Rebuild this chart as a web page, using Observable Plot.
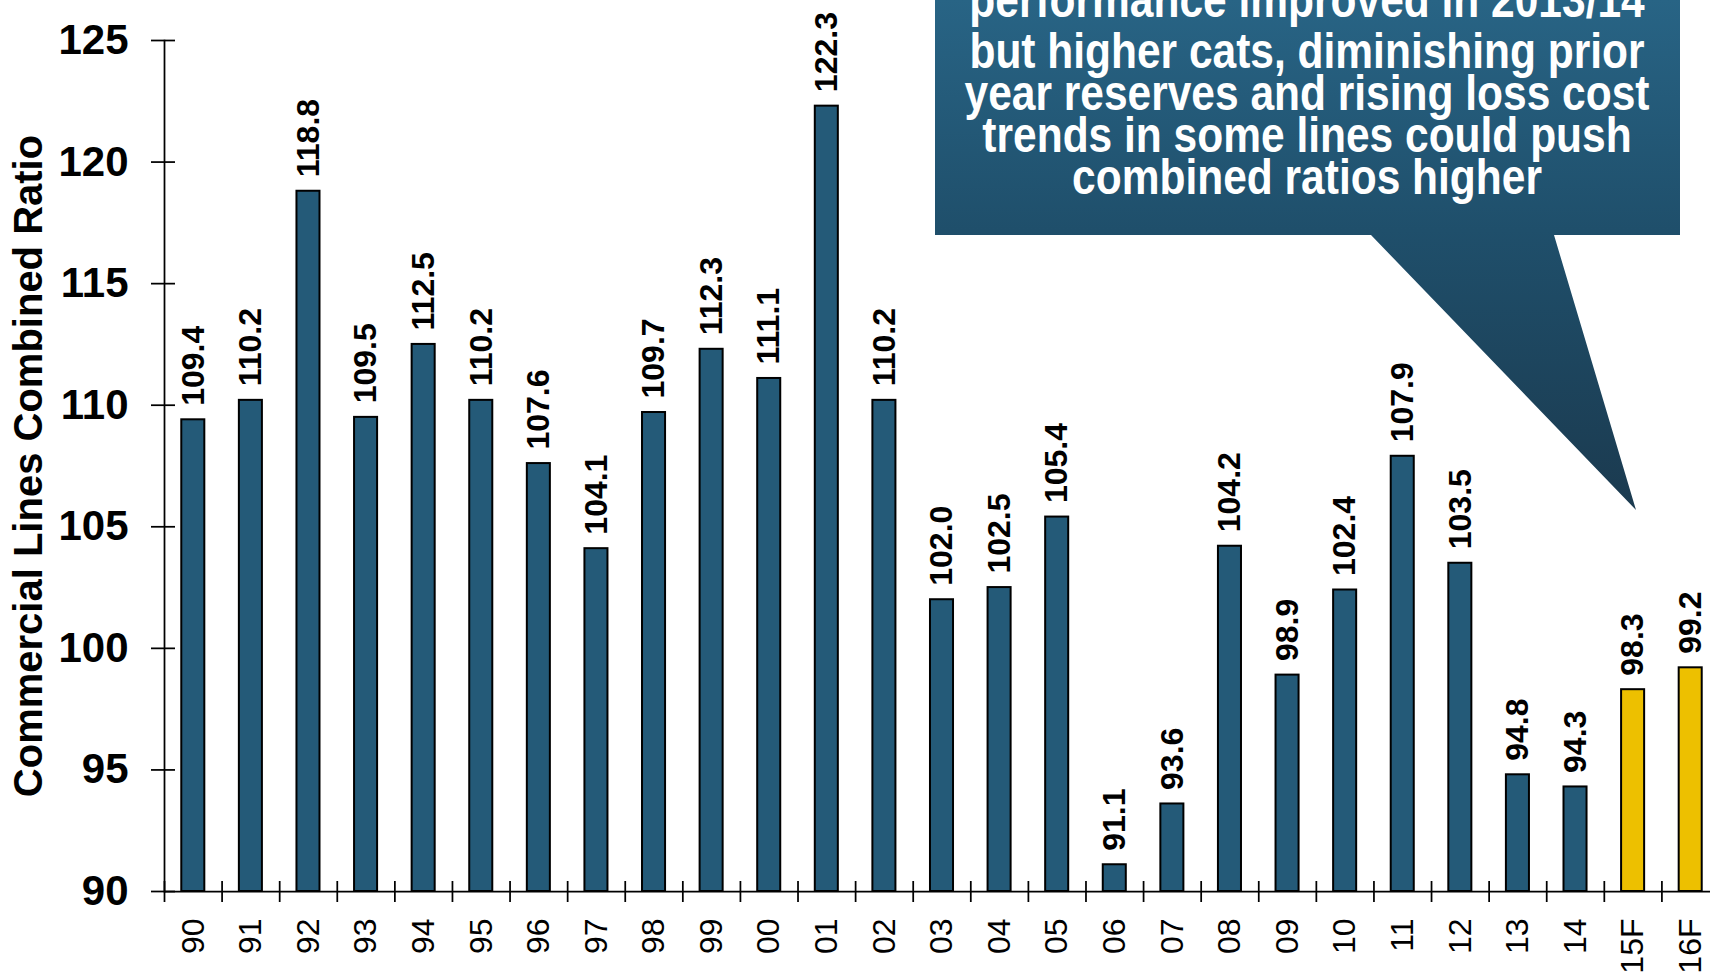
<!DOCTYPE html>
<html><head><meta charset="utf-8">
<script src="https://cdn.jsdelivr.net/npm/d3@7"></script>
<script src="https://cdn.jsdelivr.net/npm/@observablehq/plot@0.6"></script>
<style>
html,body{margin:0;padding:0;overflow:hidden;background:#fff;}
#wrap{position:relative;width:1710px;height:974px;overflow:hidden;}
#wrap svg{position:absolute;left:0;top:0;max-width:none !important;}
</style></head><body><div id="wrap"></div>
<script>
// ---- data ----
const years = ["90","91","92","93","94","95","96","97","98","99","00","01","02","03","04","05","06","07","08","09","10","11","12","13","14","15F","16F"];
const ratios = [109.4,110.2,118.8,109.5,112.5,110.2,107.6,104.1,109.7,112.3,111.1,122.3,110.2,102.0,102.5,105.4,91.1,93.6,104.2,98.9,102.4,107.9,103.5,94.8,94.3,98.3,99.2];
const isForecast = years.map(y => y.endsWith("F"));
const yTicks = [90,95,100,105,110,115,120,125];
const yTitle = "Commercial Lines Combined Ratio";
const calloutLines = [
  "performance improved in 2013/14",
  "but higher cats, diminishing prior",
  "year reserves and rising loss cost",
  "trends in some lines could push",
  "combined ratios higher"
];

// ---- chart ----
const W = 1720, H = 974, ML = 164, MR = 1, MT = 40, MB = 83;
const step = (W - ML - MR) / years.length;
const table = years.map((c, i) => ({cat: c, value: ratios[i], forecast: isForecast[i]}));
const font = "'Liberation Sans', Arial, Helvetica, sans-serif";
const BLUE = "#245A78", GOLD = "#EDC000";

const chart = Plot.plot({
  width: W, height: H,
  marginLeft: ML, marginRight: MR, marginTop: MT, marginBottom: MB,
  style: {fontFamily: font, color: "#000", background: "transparent", overflow: "visible", maxWidth: "none"},
  x: {domain: years, paddingInner: 0.6, paddingOuter: 0.3, align: 0.5, round: false, label: null, axis: null},
  y: {domain: [yTicks[0], yTicks[yTicks.length - 1]], label: null, axis: null},
  marks: [
    Plot.barY(table, {x: "cat", y1: () => yTicks[0], y2: "value",
      fill: d => d.forecast ? GOLD : BLUE, stroke: "#000", strokeWidth: 2}),
    Plot.text(table, {x: "cat", y: "value", text: d => d.value.toFixed(1),
      rotate: -90, textAnchor: "start", dy: -14, fontSize: 32, fontWeight: "bold", fill: "#000"}),
    Plot.frame({anchor: "left", stroke: "#000", strokeWidth: 1.75}),
    Plot.ruleY([yTicks[0]], {stroke: "#000", strokeWidth: 1.75}),
    Plot.axisY({ticks: yTicks, tickSize: 24, dx: 11, fill: "none", label: null, strokeWidth: 1.75}),
    Plot.axisY({ticks: yTicks, tickSize: 0, tickPadding: 36, fontSize: 42, fontWeight: "bold", label: null}),
    Plot.axisX({tickSize: 21, dx: -step / 2, dy: -10, fill: "none", label: null, strokeWidth: 1.75}),
    Plot.axisX({tickSize: 0, tickPadding: 27, tickRotate: -90, textAnchor: "end", fontSize: 32, label: null}),
    Plot.text([yTitle], {frameAnchor: "left", dx: -135, rotate: -90, textAnchor: "middle", lineAnchor: "middle",
      fontSize: 40, fontWeight: "bold", fill: "#000"})
  ]
});
document.getElementById("wrap").appendChild(chart);

// ---- callout annotation ----
const svg = d3.create("svg").attr("width", 1710).attr("height", 974)
  .style("font-family", font);
const grad = svg.append("defs").append("linearGradient")
  .attr("id", "cg").attr("gradientUnits", "userSpaceOnUse")
  .attr("x1", 0).attr("y1", 0).attr("x2", 0).attr("y2", 510);
grad.append("stop").attr("offset", 0).attr("stop-color", "#286485");
grad.append("stop").attr("offset", 0.45).attr("stop-color", "#1f4f6b");
grad.append("stop").attr("offset", 1).attr("stop-color", "#1b3a4f");
svg.append("path")
  .attr("d", "M935,-10H1680V235H1554L1636,510L1371,235H935Z")
  .attr("fill", "url(#cg)");
const baselines = [17, 68, 110, 152, 194];
calloutLines.forEach((t, i) => {
  svg.append("text")
    .attr("transform", `translate(1307,${baselines[i]}) scale(0.85,1)`)
    .attr("text-anchor", "middle")
    .attr("font-size", 50).attr("font-weight", "bold").attr("fill", "#fff")
    .text(t);
});
document.getElementById("wrap").appendChild(svg.node());
</script></body></html>
